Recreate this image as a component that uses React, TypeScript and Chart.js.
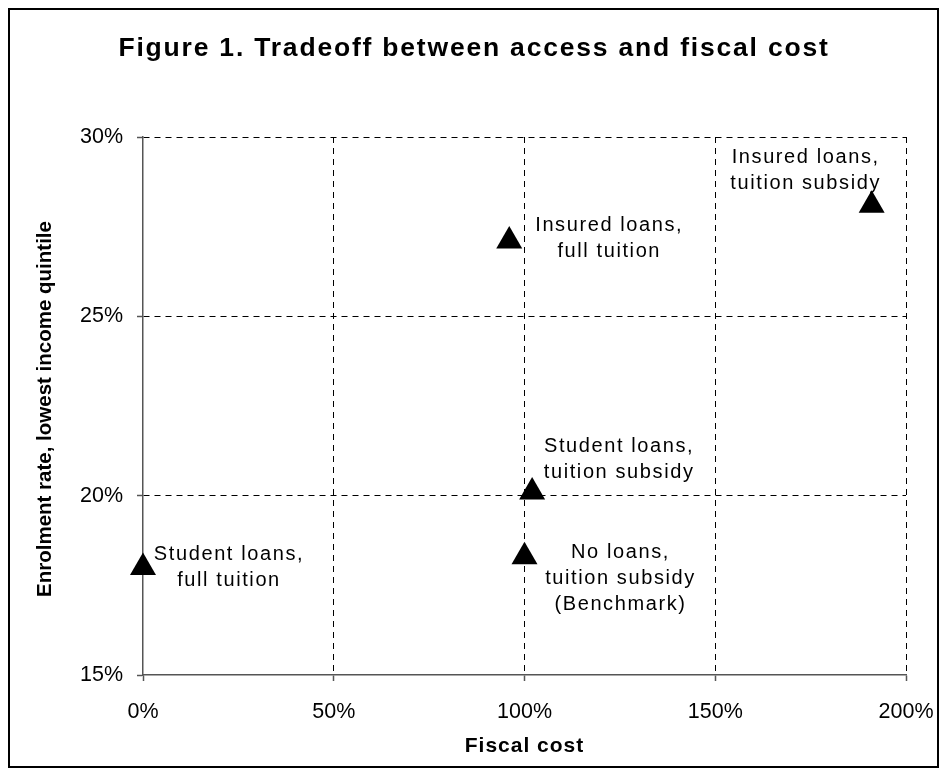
import React, { useEffect, useRef } from "react";
import { Chart, registerables } from "chart.js";

Chart.register(...registerables);

const chartTitle = "Figure 1. Tradeoff between access and fiscal cost";
const xAxisTitle = "Fiscal cost";
const yAxisTitle = "Enrolment rate, lowest income quintile";

const fiscalCost = [0, 96, 191, 102, 100];
const enrolmentRate = [18.0, 27.1, 28.1, 20.1, 18.3];
const pointLabels = [
  ["Student loans,", "full tuition"],
  ["Insured loans,", "full tuition"],
  ["Insured loans,", "tuition subsidy"],
  ["Student loans,", "tuition subsidy"],
  ["No loans,", "tuition subsidy", "(Benchmark)"],
];
const xTickValues = [0, 50, 100, 150, 200];
const yTickValues = [15, 20, 25, 30];

// label placement (pixel offsets of first line centre relative to the marker)
const labelOffsets = [
  [86, -13],
  [100, -16],
  [-66, -48],
  [87, -46],
  [96, -4],
];

const FONT = "'Liberation Sans', Arial, sans-serif";
const W = 931;
const H = 760;

const decorPlugin = {
  id: "decor",
  beforeDraw(chart: any) {
    const ctx = chart.ctx;
    ctx.save();
    ctx.fillStyle = "#fff";
    ctx.fillRect(0, 0, W, H);
    ctx.restore();
  },
  afterDraw(chart: any) {
    const ctx = chart.ctx;
    const area = chart.chartArea;
    ctx.save();
    // frame
    ctx.strokeStyle = "#000";
    ctx.lineWidth = 2;
    ctx.strokeRect(1, 1, W - 2, H - 2);
    // title
    ctx.fillStyle = "#000";
    ctx.textAlign = "center";
    ctx.textBaseline = "middle";
    (ctx as any).letterSpacing = "1.8px";
    ctx.font = `bold 26.5px ${FONT}`;
    ctx.fillText(chartTitle, 466, 41);
    // x axis title
    (ctx as any).letterSpacing = "1px";
    ctx.font = `bold 21px ${FONT}`;
    ctx.fillText(xAxisTitle, (area.left + area.right) / 2, 738);
    // y axis title
    (ctx as any).letterSpacing = "0px";
    ctx.font = `bold 20.5px ${FONT}`;
    ctx.translate(37, (area.top + area.bottom) / 2 + 3);
    ctx.rotate(-Math.PI / 2);
    ctx.fillText(yAxisTitle, 0, 0);
    ctx.restore();

    // point labels
    const meta = chart.getDatasetMeta(0);
    ctx.save();
    ctx.fillStyle = "#000";
    ctx.textAlign = "center";
    ctx.textBaseline = "middle";
    ctx.font = `20px ${FONT}`;
    (ctx as any).letterSpacing = "1.6px";
    meta.data.forEach((pt: any, i: number) => {
      const lines = pointLabels[i];
      const [dx, dy] = labelOffsets[i];
      lines.forEach((line, j) => {
        ctx.fillText(line, pt.x + dx, pt.y + dy + j * 26);
      });
    });
    ctx.restore();
  },
};

export default function App() {
  const ref = useRef<HTMLCanvasElement | null>(null);

  useEffect(() => {
    if (!ref.current) return;
    const chart = new Chart(ref.current, {
      type: "scatter",
      data: {
        datasets: [
          {
            data: fiscalCost.map((x, i) => ({ x, y: enrolmentRate[i] })),
            pointStyle: "triangle",
            pointRadius: 15,
            pointHoverRadius: 15,
            backgroundColor: "#000",
            borderColor: "#000",
            borderWidth: 0,
            clip: false as any,
          },
        ],
      },
      options: {
        responsive: false,
        animation: false,
        devicePixelRatio: 1,
        layout: { padding: { top: 129, right: 33, left: 0, bottom: 0 } },
        plugins: {
          legend: { display: false },
          tooltip: { enabled: false },
          title: { display: false },
        },
        scales: {
          x: {
            type: "linear",
            min: 0,
            max: 200,
            afterBuildTicks: (s: any) => {
              s.ticks = xTickValues.map((v) => ({ value: v }));
            },
            afterFit: (s: any) => {
              s.height = 93;
              s.paddingLeft = 0;
              s.paddingRight = 0;
            },
            ticks: {
              stepSize: 50,
              padding: 18,
              color: "#000",
              font: { family: FONT, size: 21.5 },
              callback: (v: any) => `${v}%`,
              maxRotation: 0,
            },
            grid: {
              color: (c: any) => (c.tick && c.tick.value === 0 ? "rgba(0,0,0,0)" : "#000"),
              lineWidth: 1,
              tickLength: 6,
              tickColor: "#555",
              tickWidth: 1.5,
            },
            border: { color: "#555", width: 1.5, dash: [6, 5] },
          },
          y: {
            type: "linear",
            min: 15,
            max: 30,
            afterBuildTicks: (s: any) => {
              s.ticks = yTickValues.map((v) => ({ value: v }));
            },
            afterFit: (s: any) => {
              s.width = 135;
              s.paddingTop = 0;
              s.paddingBottom = 0;
            },
            ticks: {
              stepSize: 5,
              padding: 14,
              color: "#000",
              font: { family: FONT, size: 21.5 },
              callback: (v: any) => `${v}%`,
            },
            grid: {
              color: (c: any) => (c.tick && c.tick.value === 15 ? "rgba(0,0,0,0)" : "#000"),
              lineWidth: 1,
              tickLength: 6,
              tickColor: "#555",
              tickWidth: 1.5,
            },
            border: { color: "#555", width: 1.5, dash: [6, 5] },
          },
        },
      },
      plugins: [decorPlugin],
    });
    return () => chart.destroy();
  }, []);

  return (
    <div style={{ width: W, height: H }}>
      <canvas ref={ref} width={W} height={H} style={{ display: "block", width: W, height: H }} />
    </div>
  );
}
